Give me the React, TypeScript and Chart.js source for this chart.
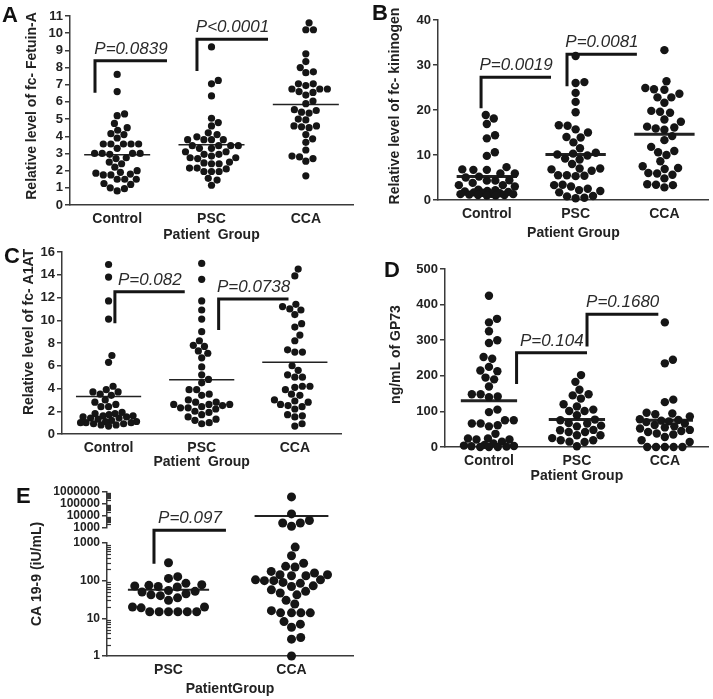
import React, { useEffect, useRef } from "react";
import { Chart, registerables } from "chart.js";
Chart.register(...registerables);

const FONT = 'Arial, "Liberation Sans", Helvetica, sans-serif';

// ---------- categories ----------
const groups3 = ["Control", "PSC", "CCA"];
const groupsE = ["PSC", "CCA"];

// ---------- Panel A: Fetuin-A ----------
const fetuinControl = [7.6, 6.6, 5.3, 5.2, 4.75, 4.5, 4.35, 4.15, 4.1, 3.9, 3.55, 3.55, 3.55, 3.55, 3.55, 3.3, 3.0, 3.0, 3.0, 3.0, 2.95, 2.75, 2.7, 2.5, 2.4, 2.2, 2.0, 1.9, 1.85, 1.8, 1.75, 1.75, 1.5, 1.5, 1.5, 1.25, 1.2, 1.0, 0.95, 0.82];
const fetuinPSC = [9.2, 7.25, 7.05, 6.35, 5.05, 4.8, 4.6, 4.2, 4.1, 3.97, 3.8, 3.8, 3.8, 3.8, 3.45, 3.45, 3.45, 3.45, 3.3, 3.3, 3.1, 3.1, 2.95, 2.95, 2.85, 2.75, 2.75, 2.7, 2.5, 2.45, 2.4, 2.4, 2.15, 2.15, 2.1, 1.95, 1.95, 1.95, 1.55, 1.45, 1.15];
const fetuinCCA = [10.6, 10.2, 10.2, 8.8, 8.35, 8.0, 7.75, 7.7, 7.05, 7.05, 6.95, 6.75, 6.75, 6.75, 6.6, 6.55, 6.4, 6.05, 5.9, 5.55, 5.5, 5.4, 5.35, 5.0, 4.95, 4.6, 4.6, 4.55, 4.5, 4.1, 3.85, 3.65, 3.2, 2.85, 2.8, 2.7, 2.55, 1.7];
const fetuinMeans = [2.93, 3.5, 5.85];
const fetuinTicks = [0, 1, 2, 3, 4, 5, 6, 7, 8, 9, 10, 11];
const fetuinBrackets = [
  { x1: -0.235, x2: 0.528, y1: 6.54, y2: 8.39, label: "P=0.0839" },
  { x1: 0.846, x2: 1.599, y1: 7.8, y2: 9.65, label: "P<0.0001" },
];

// ---------- Panel B: kininogen ----------
const kinControl = [18.9, 18.1, 16.9, 14.4, 13.7, 10.6, 9.8, 7.3, 6.8, 6.7, 6.7, 5.9, 5.9, 5.2, 5.0, 4.4, 4.3, 4.3, 3.8, 3.3, 3.3, 3.0, 2.3, 2.2, 2.0, 1.9, 1.8, 1.7, 1.6, 1.5, 1.4, 1.3, 1.3, 1.2, 1.1, 1.1, 1.0, 1.0];
const kinPSC = [32.0, 26.2, 26.0, 23.8, 21.8, 19.5, 16.6, 16.5, 15.7, 15.0, 14.0, 13.9, 12.8, 11.5, 10.5, 10.3, 10.1, 9.9, 9.2, 9.0, 8.0, 7.0, 7.0, 6.8, 6.5, 5.5, 5.5, 5.4, 5.3, 3.4, 3.3, 3.0, 2.5, 2.2, 2.0, 1.7, 0.9, 0.8, 0.5, 0.4];
const kinCCA = [33.3, 26.4, 24.9, 24.6, 24.5, 23.6, 22.8, 22.8, 21.6, 19.8, 19.6, 19.4, 17.9, 17.4, 16.3, 16.1, 15.9, 15.6, 14.2, 13.3, 11.8, 10.9, 10.6, 10.0, 8.6, 7.5, 7.1, 6.9, 6.0, 5.9, 5.6, 4.8, 3.5, 3.4, 3.3, 2.8];
const kinMeans = [5.2, 10.1, 14.6];
const kinTicks = [0, 10, 20, 30, 40];
const kinBrackets = [
  { x1: -0.065, x2: 0.723, y1: 20.4, y2: 27.3, label: "P=0.0019" },
  { x1: 0.903, x2: 1.69, y1: 25.3, y2: 32.4, label: "P=0.0081" },
];

// ---------- Panel C: A1AT ----------
const a1atControl = [14.9, 13.8, 11.7, 10.1, 6.9, 6.3, 4.2, 3.9, 3.7, 3.7, 3.5, 3.4, 3.0, 2.8, 2.6, 2.4, 2.4, 1.9, 1.8, 1.8, 1.7, 1.6, 1.6, 1.5, 1.5, 1.4, 1.4, 1.3, 1.2, 1.1, 1.1, 1.0, 1.0, 1.0, 0.9, 0.9, 0.8, 0.8, 0.7];
const a1atPSC = [15.0, 13.6, 11.7, 10.9, 10.1, 9.0, 8.2, 7.8, 7.7, 7.3, 7.1, 6.7, 5.9, 5.2, 4.8, 4.5, 3.9, 3.9, 3.5, 3.4, 3.0, 2.8, 2.8, 2.6, 2.6, 2.6, 2.5, 2.4, 2.3, 2.3, 2.2, 2.0, 1.9, 1.7, 1.5, 1.3, 1.2, 1.0, 0.9];
const a1atCCA = [14.5, 13.9, 11.4, 11.2, 11.0, 10.9, 10.5, 9.7, 9.4, 8.7, 8.2, 7.4, 7.2, 7.2, 6.0, 5.6, 5.2, 5.0, 5.0, 4.2, 4.2, 4.1, 3.9, 3.5, 3.4, 3.0, 2.9, 2.8, 2.6, 2.5, 2.4, 2.2, 1.7, 1.6, 1.5, 0.9, 0.7];
const a1atMeans = [3.3, 4.77, 6.3];
const a1atTicks = [0, 2, 4, 6, 8, 10, 12, 14, 16];
const a1atBrackets = [
  { x1: 0.068, x2: 0.818, y1: 9.74, y2: 12.51, label: "P=0.082" },
  { x1: 1.182, x2: 1.932, y1: 9.15, y2: 11.87, label: "P=0.0738" },
];

// ---------- Panel D: GP73 ----------
const gp73Control = [425, 360, 350, 325, 300, 292, 253, 248, 225, 215, 213, 195, 190, 170, 148, 148, 142, 140, 105, 98, 75, 75, 66, 66, 61, 58, 37, 24, 24, 21, 21, 15, 10, 6, 4, 3, 2, 1, 0, 0, 0];
const gp73PSC = [202, 183, 161, 148, 145, 136, 120, 114, 105, 101, 101, 89, 77, 75, 67, 66, 60, 58, 48, 47, 42, 42, 33, 33, 25, 19, 19, 15, 14, 2];
const gp73CCA = [350, 245, 235, 133, 126, 96, 94, 92, 86, 78, 76, 74, 72, 70, 66, 62, 58, 55, 52, 48, 45, 42, 38, 35, 28, 19, 14, 0, 0, 0, 0, 0];
const gp73Means = [130, 77, 75];
const gp73Ticks = [0, 100, 200, 300, 400, 500];
const gp73Brackets = [
  { x1: 0.314, x2: 1.115, y1: 177, y2: 265, label: "P=0.104" },
  { x1: 1.115, x2: 1.926, y1: 282, y2: 373, label: "P=0.1680" },
];

// ---------- Panel E: CA 19-9 ----------
const ca199PSC = [300, 128, 115, 85, 78, 75, 72, 70, 68, 55, 52, 50, 45, 42, 40, 35, 30, 20, 20, 19, 15, 15, 15, 15, 15, 15];
const ca199CCALow = [780, 460, 290, 240, 230, 176, 160, 144, 144, 135, 135, 105, 105, 100, 100, 90, 85, 73, 70, 57, 52, 47, 42, 30, 24, 16, 14, 14, 14, 14, 8.2, 7, 5.8, 3.1, 2.8, 1.0];
const ca199CCAHigh = [390000, 15000, 4200, 2600, 2600, 1400];
const ca199MeansLow = [57, null];
const ca199MeansHigh = [null, 10000];
const ca199TicksLow = [1, 10, 100, 1000];
const ca199TicksHigh = [1000, 10000, 100000, 1000000];
const ca199Brackets = [{ x1: -0.118, x2: 0.467, y1: 280, y2: 2170, label: "P=0.097" }];

type Bracket = { x1: number; x2: number; y1: number; y2: number; label: string };
interface Spec {
  left: number; top: number; width: number; height: number;
  yWidth: number; xHeight: number; padTop: number; padRight: number; padBottom: number;
  xMin: number; xMax: number; showX: boolean;
  cats: string[]; groups: number[][]; means: (number | null)[];
  meanHalf: number; meanWidth: number; radius: number; swarmHalf: number;
  yMin: number; yMax: number; yTicks: number[]; yLog: boolean; yTickSize: number;
  brackets: Bracket[];
  xTitle: string; xTitlePad: number;
  yTitle: string | null; yTitleX: number; yTitleY: number;
  minor: boolean;
}

// beeswarm layout in pixel space (lowest values first, so dense clusters curve upward),
// limited to a maximum half-width; converts back to data x through the scale.
function applySwarm(chart: any, r: number, half: number) {
  const xs = chart.scales.x, ys = chart.scales.y;
  const dmin = 2 * r + 0.4;
  chart.data.datasets.forEach((ds: any) => {
    if (ds.swarmGroup === undefined) return;
    const cx = xs.getPixelForValue(ds.swarmGroup);
    const items = ds.data.map((p: any, i: number) => ({ i, py: ys.getPixelForValue(p.y) }));
    items.sort((a: any, b: any) => b.py - a.py);
    const placed: { x: number; py: number }[] = [];
    const minDist = (c: number, py: number) => {
      let m = Infinity;
      for (const q of placed) {
        const dd = Math.sqrt((q.x - c) ** 2 + (q.py - py) ** 2);
        if (dd < m) m = dd;
      }
      return m;
    };
    for (const it of items) {
      const cands = [0];
      for (const q of placed) {
        const dy = it.py - q.py;
        if (Math.abs(dy) < dmin) {
          const dx = Math.sqrt(dmin * dmin - dy * dy);
          cands.push(q.x + dx, q.x - dx);
        }
      }
      const ok = cands.filter((c) => Math.abs(c) <= half + 0.01).sort((a, b) => Math.abs(a) - Math.abs(b));
      let chosen: number | null = null;
      for (const c of ok) {
        if (minDist(c, it.py) >= dmin - 0.01) { chosen = c; break; }
      }
      if (chosen === null) {
        let best = -1;
        chosen = 0;
        for (let c = -half; c <= half + 0.001; c += 0.5) {
          const md = minDist(c, it.py) - Math.abs(c) * 0.001;
          if (md > best) { best = md; chosen = c; }
        }
      }
      placed.push({ x: chosen, py: it.py });
      ds.data[it.i] = { x: xs.getValueForPixel(cx + chosen), y: ds.data[it.i].y };
    }
  });
  chart.update("none");
}

function PanelChart({ spec }: { spec: Spec }) {
  const ref = useRef<HTMLCanvasElement>(null);
  useEffect(() => {
    const canvas = ref.current!;
    const datasets: any[] = [];
    spec.groups.forEach((vals, gi) => {
      datasets.push({
        type: "scatter",
        data: vals.map((v) => ({ x: gi, y: v })),
        backgroundColor: "#151515",
        borderWidth: 0,
        pointRadius: spec.radius,
        pointHoverRadius: spec.radius,
        clip: false,
        swarmGroup: gi,
      });
    });
    spec.means.forEach((m, gi) => {
      if (m == null) return;
      datasets.push({
        type: "line",
        data: [{ x: gi - spec.meanHalf, y: m }, { x: gi + spec.meanHalf, y: m }],
        borderColor: "#222", borderWidth: spec.meanWidth, pointRadius: 0, fill: false, clip: false, tension: 0,
      });
    });
    spec.brackets.forEach((b) => {
      datasets.push({
        type: "line",
        data: [{ x: b.x1, y: b.y1 }, { x: b.x1, y: b.y2 }, { x: b.x2, y: b.y2 }],
        borderColor: "#151515", borderWidth: 3, pointRadius: 0, fill: false, clip: false, tension: 0,
        borderJoinStyle: "miter", borderCapStyle: "butt",
      });
    });

    const textPlugin = {
      id: "extras",
      afterDatasetsDraw(chart: any) {
        const ctx = chart.ctx;
        const xs = chart.scales.x, ys = chart.scales.y;
        ctx.save();
        ctx.fillStyle = "#2a2a2a";
        ctx.font = `italic 17px ${FONT}`;
        ctx.textAlign = "center";
        ctx.textBaseline = "alphabetic";
        spec.brackets.forEach((b) => {
          const px = xs.getPixelForValue((b.x1 + b.x2) / 2);
          const py = ys.getPixelForValue(b.y2) - 7;
          ctx.fillText(b.label, px, py);
        });
        if (spec.minor) {
          const ax = chart.chartArea.left;
          ctx.strokeStyle = "#333";
          ctx.lineWidth = 1.2;
          for (let k = Math.floor(Math.log10(spec.yMin)); k < Math.log10(spec.yMax); k++) {
            for (let m = 2; m <= 9; m++) {
              const v = m * Math.pow(10, k);
              if (v < spec.yMin || v > spec.yMax) continue;
              const py = Math.round(ys.getPixelForValue(v)) + 0.5;
              ctx.beginPath();
              ctx.moveTo(ax, py);
              ctx.lineTo(ax + 4, py);
              ctx.stroke();
            }
          }
        }
        ctx.restore();
      },
      afterDraw(chart: any) {
        if (!spec.yTitle) return;
        const ctx = chart.ctx;
        ctx.save();
        ctx.translate(spec.yTitleX, spec.yTitleY);
        ctx.rotate(-Math.PI / 2);
        ctx.fillStyle = "#222";
        ctx.font = `bold 14px ${FONT}`;
        ctx.textAlign = "center";
        ctx.textBaseline = "middle";
        ctx.fillText(spec.yTitle, 0, 0);
        ctx.restore();
      },
    };

    const chart = new Chart(canvas, {
      type: "scatter",
      data: { datasets },
      options: {
        responsive: false,
        animation: false,
        devicePixelRatio: 1,
        events: [],
        layout: { padding: { top: spec.padTop, right: spec.padRight, left: 0, bottom: spec.padBottom } },
        plugins: { legend: { display: false }, tooltip: { enabled: false }, title: { display: false } },
        scales: {
          x: {
            type: "linear",
            min: spec.xMin,
            max: spec.xMax,
            display: spec.showX,
            afterBuildTicks: (s: any) => { s.ticks = spec.cats.map((_, i) => ({ value: i })); },
            afterFit: (s: any) => { s.height = spec.xHeight; },
            ticks: {
              font: { family: FONT, size: 14, weight: "bold" },
              color: "#222",
              padding: 6,
              autoSkip: false,
              maxRotation: 0,
              callback: (v: any) => spec.cats[Math.round(Number(v))] ?? "",
            },
            grid: { display: false, drawTicks: false },
            border: { display: true, color: "#3a3a3a", width: 1.5 },
            title: {
              display: true,
              text: spec.xTitle,
              font: { family: FONT, size: 14, weight: "bold" },
              color: "#222",
              padding: { top: 0, bottom: spec.xTitlePad },
            },
          },
          y: {
            type: spec.yLog ? "logarithmic" : "linear",
            min: spec.yMin,
            max: spec.yMax,
            afterBuildTicks: (s: any) => { s.ticks = spec.yTicks.map((v) => ({ value: v })); },
            afterFit: (s: any) => { s.width = spec.yWidth; },
            ticks: {
              font: { family: FONT, size: spec.yTickSize, weight: "bold" },
              color: "#222",
              padding: 2,
              autoSkip: false,
              callback: (v: any) => String(v),
            },
            grid: { display: true, drawOnChartArea: false, drawTicks: true, tickLength: 5, color: "#3a3a3a", lineWidth: 1.5 },
            border: { display: true, color: "#3a3a3a", width: 1.5 },
          },
        },
      } as any,
      plugins: [textPlugin],
    } as any);
    applySwarm(chart, spec.radius, spec.swarmHalf);
    return () => chart.destroy();
  }, [spec]);
  return (
    <canvas
      ref={ref}
      width={spec.width}
      height={spec.height}
      style={{ position: "absolute", left: spec.left, top: spec.top, width: spec.width, height: spec.height }}
    />
  );
}

const base = { showX: true, padBottom: 0, minor: false, yLog: false, yTickSize: 13, xMin: -0.5, xMax: 2.5 };

const specA: Spec = {
  ...base, left: 0, top: 0, width: 360, height: 245, yWidth: 70, xHeight: 40, padTop: 16, padRight: 7,
  cats: groups3, groups: [fetuinControl, fetuinPSC, fetuinCCA], means: fetuinMeans, meanHalf: 0.35, meanWidth: 1.5, radius: 3.6, swarmHalf: 30,
  yMin: 0, yMax: 11, yTicks: fetuinTicks, brackets: fetuinBrackets, xTitle: "Patient  Group", xTitlePad: 1,
  yTitle: "Relative level of fc- Fetuin-A", yTitleX: 32.5, yTitleY: 106,
};
const specB: Spec = {
  ...base, left: 360, top: 0, width: 353, height: 245, yWidth: 78, xHeight: 45, padTop: 20, padRight: 0, xMin: -0.55,
  cats: groups3, groups: [kinControl, kinPSC, kinCCA], means: kinMeans, meanHalf: 0.34, meanWidth: 3, radius: 4.2, swarmHalf: 28,
  yMin: 0, yMax: 40, yTicks: kinTicks, brackets: kinBrackets, xTitle: "Patient Group", xTitlePad: 3.6,
  yTitle: "Relative level of fc- kininogen", yTitleX: 35, yTitleY: 106,
};
const specC: Spec = {
  ...base, left: 0, top: 236, width: 345, height: 236, yWidth: 62, xHeight: 38, padTop: 16, padRight: 3,
  cats: groups3, groups: [a1atControl, a1atPSC, a1atCCA], means: a1atMeans, meanHalf: 0.35, meanWidth: 1.5, radius: 3.6, swarmHalf: 28,
  yMin: 0, yMax: 16, yTicks: a1atTicks, brackets: a1atBrackets, xTitle: "Patient  Group", xTitlePad: 1.6,
  yTitle: "Relative level of fc- A1AT", yTitleX: 29, yTitleY: 96,
};
const specD: Spec = {
  ...base, left: 360, top: 236, width: 353, height: 250, yWidth: 85, xHeight: 39, padTop: 33, padRight: 0,
  cats: groups3, groups: [gp73Control, gp73PSC, gp73CCA], means: gp73Means, meanHalf: 0.32, meanWidth: 3, radius: 4.2, swarmHalf: 25,
  yMin: 0, yMax: 500, yTicks: gp73Ticks, brackets: gp73Brackets, xTitle: "Patient Group", xTitlePad: 1.6,
  yTitle: "ng/mL of GP73", yTitleX: 36, yTitleY: 118.5,
};
const specEHigh: Spec = {
  ...base, left: 0, top: 480, width: 360, height: 62, yWidth: 107, xHeight: 0, padTop: 12, padRight: 7, padBottom: 14,
  showX: false, xMin: -0.5, xMax: 1.5, minor: true, yLog: true, yTickSize: 12,
  cats: groupsE, groups: [[], ca199CCAHigh], means: ca199MeansHigh, meanHalf: 0.3, meanWidth: 2, radius: 4.5, swarmHalf: 35,
  yMin: 1000, yMax: 1000000, yTicks: ca199TicksHigh, brackets: [], xTitle: "", xTitlePad: 0,
  yTitle: null, yTitleX: 0, yTitleY: 0,
};
const specELow: Spec = {
  ...base, left: 0, top: 480, width: 360, height: 219, yWidth: 107, xHeight: 43, padTop: 63, padRight: 7,
  xMin: -0.5, xMax: 1.5, minor: true, yLog: true, yTickSize: 12,
  cats: groupsE, groups: [ca199PSC, ca199CCALow], means: ca199MeansLow, meanHalf: 0.33, meanWidth: 2, radius: 4.5, swarmHalf: 36,
  yMin: 1, yMax: 1000, yTicks: ca199TicksLow, brackets: ca199Brackets, xTitle: "PatientGroup", xTitlePad: 1.6,
  yTitle: "CA 19-9 (iU/mL)", yTitleX: 37.5, yTitleY: 94,
};

const letterStyle = (left: number, top: number): React.CSSProperties => ({
  position: "absolute", left, top, font: `bold 22px ${FONT}`, lineHeight: "22px", color: "#111",
});

export default function App() {
  return (
    <div style={{ position: "absolute", left: 0, top: 0, width: 713, height: 699, background: "#fff", overflow: "hidden" }}>
      <PanelChart spec={specA} />
      <PanelChart spec={specB} />
      <PanelChart spec={specC} />
      <PanelChart spec={specD} />
      <PanelChart spec={specEHigh} />
      <PanelChart spec={specELow} />
      <div style={letterStyle(2, 4)}>A</div>
      <div style={letterStyle(372, 2)}>B</div>
      <div style={letterStyle(4, 245)}>C</div>
      <div style={letterStyle(384, 259)}>D</div>
      <div style={letterStyle(16, 485)}>E</div>
    </div>
  );
}
